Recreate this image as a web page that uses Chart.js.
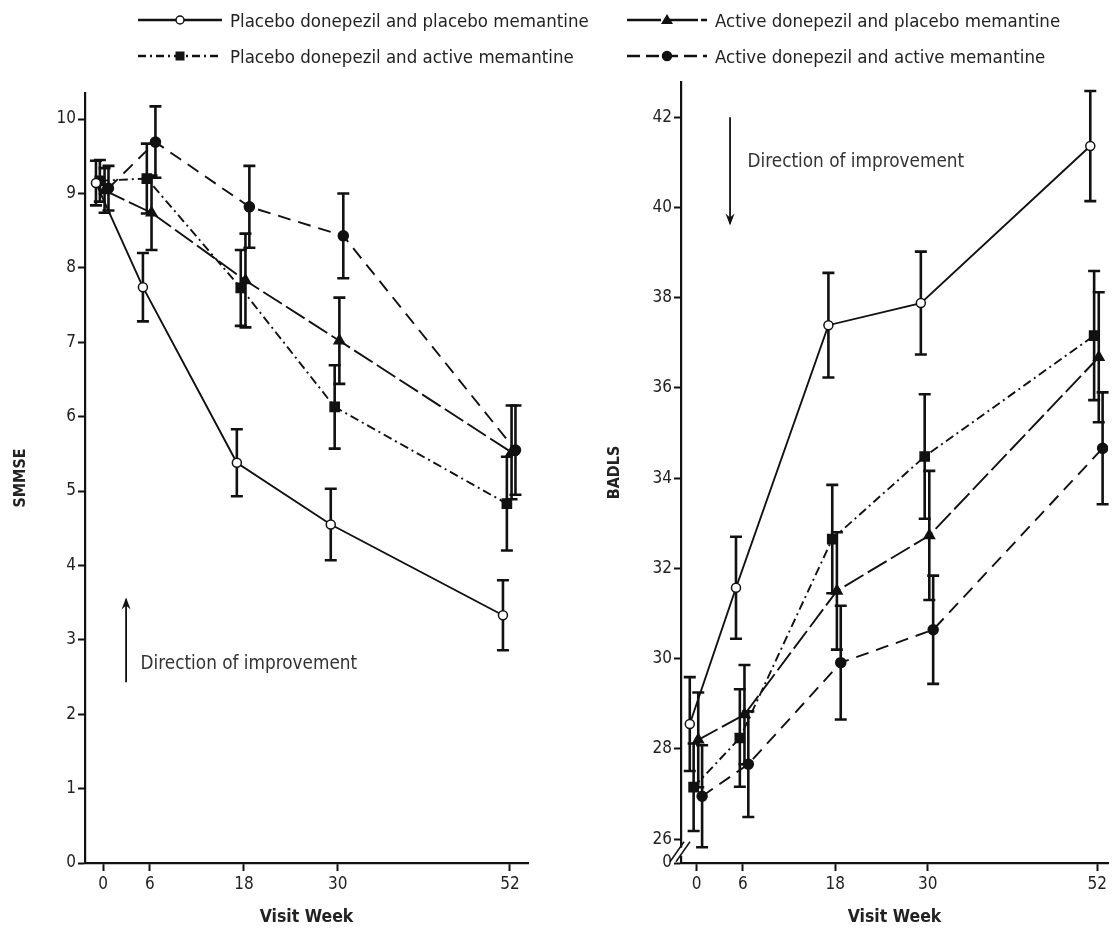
<!DOCTYPE html>
<html>
<head>
<meta charset="utf-8">
<script src="https://cdn.jsdelivr.net/npm/chart.js@4.4.1/dist/chart.umd.min.js"></script>
<style>
html,body{margin:0;padding:0;background:#fff;}
body{width:1116px;height:941px;position:relative;overflow:hidden;font-family:'Liberation Sans Narrow','DejaVu Sans Condensed','Liberation Sans',sans-serif;}
canvas{position:absolute;top:0;}
#c1{left:0;}
#c2{left:555px;}
.leg{position:absolute;display:flex;align-items:center;font-size:18.5px;color:#222;height:26px;z-index:2;white-space:nowrap;}
.leg svg{margin-right:8px;}
</style>
</head>
<body>
<div class="leg" id="l0" style="left:138px;top:7px;"></div>
<div class="leg" id="l1" style="left:627px;top:7px;"></div>
<div class="leg" id="l2" style="left:138px;top:43px;"></div>
<div class="leg" id="l3" style="left:627px;top:43px;"></div>
<canvas id="c1" width="550" height="941"></canvas>
<canvas id="c2" width="561" height="941"></canvas>
<script>
// ---------- data ----------
const weeks = [0, 6, 18, 30, 52];
const seriesNames = [
  'Placebo donepezil and placebo memantine',
  'Active donepezil and placebo memantine',
  'Placebo donepezil and active memantine',
  'Active donepezil and active memantine'
];
// small horizontal dodge (in weeks) used in the figure to separate series
const weekDodge = [-0.9, 0.2, -0.4, 0.7];

// SMMSE (left panel)
const smmsePP   = [9.14, 7.74, 5.38, 4.55, 3.33];
const smmsePPErr   = [0.30, 0.46, 0.45, 0.48, 0.47];
const smmseADPM = [9.04, 8.74, 7.83, 7.02, 5.52];
const smmseADPMErr = [0.30, 0.50, 0.63, 0.58, 0.63];
const smmsePDAM = [9.17, 9.20, 7.73, 6.13, 4.83];
const smmsePDAMErr = [0.28, 0.47, 0.51, 0.56, 0.63];
const smmseADAM = [9.07, 9.69, 8.82, 8.43, 5.55];
const smmseADAMErr = [0.30, 0.48, 0.55, 0.57, 0.60];
const smmseTicks = [0, 1, 2, 3, 4, 5, 6, 7, 8, 9, 10];

// BADLS (right panel)
const badlsPP   = [28.55, 31.57, 37.39, 37.88, 41.36];
const badlsPPErr   = [1.04, 1.13, 1.16, 1.14, 1.22];
const badlsADPM = [28.20, 28.76, 31.50, 32.73, 36.68];
const badlsADPMErr = [1.05, 1.10, 1.30, 1.43, 1.44];
const badlsPDAM = [27.15, 28.24, 32.65, 34.48, 37.16];
const badlsPDAMErr = [0.97, 1.08, 1.20, 1.38, 1.43];
const badlsADAM = [26.95, 27.66, 29.91, 30.64, 34.66];
const badlsADAMErr = [1.13, 1.17, 1.26, 1.20, 1.24];
const badlsTicks = [26, 28, 30, 32, 34, 36, 38, 40, 42];
const badlsBreakLabel = '0';

const noteText = 'Direction of improvement';
const xTitle = 'Visit Week';

// ---------- styles ----------
const INK = '#111';
const TXT = '#222';
const FONT = "'Liberation Sans Narrow','DejaVu Sans Condensed','Liberation Sans',sans-serif";
const styles = [
  {dash: [], point: 'circle', fill: '#fff', radius: 4.5},
  {dash: [22, 5], point: 'triangle', fill: INK, radius: 6},
  {dash: [9, 4, 2, 4], point: 'rect', fill: INK, radius: 6.5},
  {dash: [13, 8], point: 'circle', fill: INK, radius: 5}
];

function buildDatasets(valuesList, errList) {
  return valuesList.map((vals, s) => ({
    label: seriesNames[s],
    data: weeks.map((w, i) => ({x: w + weekDodge[s], y: vals[i]})),
    errors: errList[s],
    borderColor: INK,
    borderWidth: 1.9,
    borderDash: styles[s].dash,
    pointStyle: styles[s].point,
    pointRadius: styles[s].radius,
    pointHoverRadius: styles[s].radius,
    pointBackgroundColor: styles[s].fill,
    pointBorderColor: INK,
    pointBorderWidth: 1.5,
    tension: 0,
    fill: false
  }));
}

const errorBars = {
  id: 'errorBars',
  beforeDatasetsDraw(chart) {
    const {ctx} = chart;
    const xs = chart.scales.x, ys = chart.scales.y;
    ctx.save();
    ctx.strokeStyle = INK;
    ctx.lineWidth = 2.6;
    ctx.setLineDash([]);
    chart.data.datasets.forEach(ds => {
      ds.data.forEach((p, i) => {
        const e = ds.errors[i];
        const px = xs.getPixelForValue(p.x);
        const t = ys.getPixelForValue(p.y + e);
        const b = ys.getPixelForValue(p.y - e);
        ctx.beginPath();
        ctx.moveTo(px, t); ctx.lineTo(px, b);
        ctx.moveTo(px - 6, t); ctx.lineTo(px + 6, t);
        ctx.moveTo(px - 6, b); ctx.lineTo(px + 6, b);
        ctx.stroke();
      });
    });
    ctx.restore();
  }
};

const improvementNote = {
  id: 'improvementNote',
  afterDraw(chart, args, o) {
    if (!o || o.x === undefined) return;
    const {ctx} = chart;
    const xs = chart.scales.x, ys = chart.scales.y;
    const ax = xs.getPixelForValue(o.x);
    const y1 = ys.getPixelForValue(o.tail);
    const y2 = ys.getPixelForValue(o.head);
    const dir = y2 < y1 ? -1 : 1;
    ctx.save();
    ctx.strokeStyle = INK; ctx.fillStyle = INK; ctx.lineWidth = 1.8;
    ctx.beginPath(); ctx.moveTo(ax, y1); ctx.lineTo(ax, y2 - dir * 2); ctx.stroke();
    ctx.beginPath();
    ctx.moveTo(ax, y2);
    ctx.lineTo(ax - 4.5, y2 - dir * 12);
    ctx.lineTo(ax, y2 - dir * 8);
    ctx.lineTo(ax + 4.5, y2 - dir * 12);
    ctx.closePath(); ctx.fill();
    ctx.font = '18.8px ' + FONT;
    ctx.fillStyle = '#333';
    ctx.textBaseline = 'middle';
    ctx.textAlign = 'left';
    ctx.fillText(o.text, xs.getPixelForValue(o.textX), ys.getPixelForValue(o.textY));
    ctx.restore();
  }
};

const axisBreak = {
  id: 'axisBreak',
  afterDraw(chart, args, o) {
    if (!o || o.value === undefined) return;
    const {ctx} = chart;
    const ys = chart.scales.y;
    const ax = chart.chartArea.left;
    const cy = ys.getPixelForValue(o.value);
    ctx.save();
    ctx.fillStyle = '#fff';
    ctx.fillRect(ax - 3, cy - 4, 6, 8);
    ctx.strokeStyle = INK; ctx.lineWidth = 1.5;
    [-3, 3].forEach(d => {
      ctx.beginPath();
      ctx.moveTo(ax + d - 8, cy + 10);
      ctx.lineTo(ax + d + 6, cy - 10);
      ctx.stroke();
    });
    ctx.restore();
  }
};

function baseOptions(cfg) {
  return {
    responsive: false,
    animation: false,
    devicePixelRatio: 1,
    layout: {padding: {top: cfg.padTop, right: cfg.padRight, left: 0, bottom: 0}},
    plugins: {
      legend: {display: false},
      tooltip: {enabled: false},
      improvementNote: cfg.note,
      axisBreak: cfg.axisBreak || {}
    },
    scales: {
      x: {
        type: 'linear',
        min: cfg.xMin, max: cfg.xMax,
        afterFit: s => { s.height = 78; },
        afterBuildTicks: s => { s.ticks = weeks.map(v => ({value: v})); },
        grid: {drawOnChartArea: false, drawTicks: true, tickLength: 8, tickWidth: 2, tickColor: INK},
        border: {display: true, color: INK, width: 2.2},
        ticks: {color: TXT, font: {family: FONT, size: 17}, padding: 3, autoSkip: false, maxRotation: 0},
        title: {display: true, text: xTitle, color: TXT, font: {family: FONT, size: 17.5, weight: 'bold'}, padding: {top: 0, bottom: 13}}
      },
      y: {
        type: 'linear',
        min: cfg.yMin, max: cfg.yMax,
        afterFit: s => { s.width = cfg.yWidth; },
        afterBuildTicks: cfg.yTicks,
        grid: {drawOnChartArea: false, drawTicks: true, tickLength: 7, tickWidth: 2, tickColor: INK},
        border: {display: true, color: INK, width: 2.2},
        ticks: {color: TXT, font: {family: FONT, size: 17}, padding: 2, autoSkip: false, callback: cfg.yLabel},
        title: {display: true, text: cfg.yTitle, color: TXT, font: {family: FONT, size: 16, weight: 'bold'}, padding: {top: cfg.yTitlePad, bottom: 0}}
      }
    }
  };
}

new Chart(document.getElementById('c1'), {
  type: 'line',
  data: {datasets: buildDatasets([smmsePP, smmseADPM, smmsePDAM, smmseADAM], [smmsePPErr, smmseADPMErr, smmsePDAMErr, smmseADAMErr])},
  options: baseOptions({
    padTop: 93, padRight: 22, xMin: -2.3, xMax: 54.3, yMin: 0, yMax: 10.35, yWidth: 85,
    yTicks: s => { s.ticks = smmseTicks.map(v => ({value: v})); },
    yLabel: v => v,
    yTitle: 'SMMSE', yTitlePad: 11,
    note: {x: 2.95, tail: 2.43, head: 3.57, textX: 4.8, textY: 2.68, text: noteText}
  }),
  plugins: [errorBars, improvementNote, axisBreak]
});

const badlsMin = 25.47;
new Chart(document.getElementById('c2'), {
  type: 'line',
  data: {datasets: buildDatasets([badlsPP, badlsADPM, badlsPDAM, badlsADAM], [badlsPPErr, badlsADPMErr, badlsPDAMErr, badlsADAMErr])},
  options: baseOptions({
    padTop: 82, padRight: 0, xMin: -2.04, xMax: 53.4, yMin: badlsMin, yMax: 42.78, yWidth: 126,
    yTicks: s => { s.ticks = [{value: badlsMin}].concat(badlsTicks.map(v => ({value: v}))); },
    yLabel: v => (v === badlsMin ? badlsBreakLabel : v),
    yTitle: 'BADLS', yTitlePad: 50,
    note: {x: 4.33, tail: 42.0, head: 39.6, textX: 6.6, textY: 41.0, text: noteText},
    axisBreak: {value: 25.72}
  }),
  plugins: [errorBars, improvementNote, axisBreak]
});

// ---------- legend (HTML) ----------
function swatch(s) {
  const st = styles[s];
  const w = s % 2 === 0 ? 84 : 80;
  const c = w / 2;
  let dash = '';
  if (s === 1) dash = 'stroke-dasharray="34 3"';
  if (s === 2) dash = 'stroke-dasharray="8 4 2 4"';
  if (s === 3) dash = 'stroke-dasharray="13 6"';
  let marker = '';
  if (st.point === 'circle') marker = `<circle cx="${c}" cy="9" r="${st.radius - 0.5}" fill="${st.fill}" stroke="${INK}" stroke-width="1.5"/>`;
  if (st.point === 'triangle') marker = `<polygon points="${c},3 ${c + 6},13 ${c - 6},13" fill="${INK}"/>`;
  if (st.point === 'rect') marker = `<rect x="${c - 4.5}" y="4.5" width="9" height="9" fill="${INK}"/>`;
  return `<svg width="${w}" height="18"><line x1="0" y1="9" x2="${w}" y2="9" stroke="${INK}" stroke-width="2.4" ${dash}/>${marker}</svg>`;
}
[0, 1, 2, 3].forEach(s => {
  document.getElementById('l' + s).innerHTML = swatch(s) + '<span>' + seriesNames[s] + '</span>';
});
</script>
</body>
</html>
